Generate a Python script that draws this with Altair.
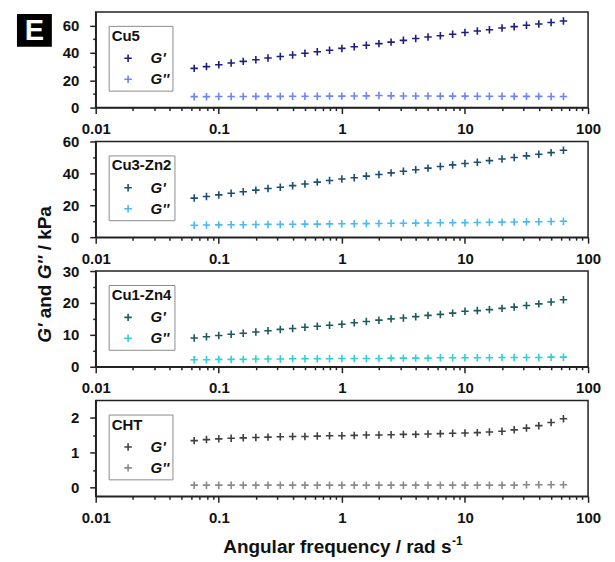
import json
import altair as alt
import pandas as pd

FONT = "Liberation Sans, Arial, sans-serif"

FREQ = [0.0631, 0.0794, 0.1, 0.126, 0.158, 0.2, 0.251, 0.316, 0.398, 0.501,
        0.631, 0.794, 1, 1.26, 1.58, 2, 2.51, 3.16, 3.98, 5.01,
        6.31, 7.94, 10, 12.6, 15.8, 20, 25.1, 31.6, 39.8, 50.1, 63.1]

SERIES = ["G'", "G''"]

CU5_GP = [28.7, 30.0, 31.3, 32.6, 33.8, 35.0, 36.3, 37.4, 38.5, 39.7, 40.9, 42.0,
          43.3, 44.5, 45.6, 46.8, 47.9, 49.2, 50.5, 51.6, 52.6, 53.7, 54.9, 56.0,
          57.0, 58.2, 59.2, 60.2, 61.2, 62.3, 63.3]
CU5_GPP = [8.0, 8.0, 8.1, 8.1, 8.1, 8.2, 8.2, 8.2, 8.3, 8.3, 8.3, 8.4, 8.4, 8.5,
           8.6, 8.9, 8.6, 8.5, 8.5, 8.5, 8.4, 8.4, 8.4, 8.3, 8.3, 8.3, 8.2, 8.2,
           8.2, 8.1, 8.1]
CU3_GP = [24.5, 25.5, 26.5, 27.5, 28.5, 29.5, 30.5, 31.3, 32.3, 33.3, 34.5, 35.5,
          36.5, 37.3, 38.3, 39.3, 40.3, 41.3, 42.3, 43.3, 44.3, 45.3, 46.2, 47.0,
          48.0, 49.0, 50.0, 51.0, 52.0, 53.0, 54.5]
CU3_GPP = [7.5, 7.6, 7.7, 7.8, 7.8, 7.9, 8.0, 8.0, 8.1, 8.2, 8.2, 8.3, 8.4, 8.4,
           8.5, 8.6, 8.7, 8.7, 8.8, 8.9, 9.0, 9.0, 9.1, 9.2, 9.3, 9.4, 9.5, 9.6,
           9.7, 9.8, 10.0]
CU1_GP = [9.0, 9.4, 9.8, 10.2, 10.5, 10.9, 11.3, 11.7, 12.0, 12.4, 12.7, 13.0,
          13.3, 13.8, 14.2, 14.6, 15.0, 15.3, 15.7, 16.1, 16.4, 16.8, 17.4, 17.6,
          17.9, 18.3, 18.7, 19.2, 19.7, 20.3, 21.0]
CU1_GPP = [2.2, 2.2, 2.3, 2.3, 2.3, 2.4, 2.4, 2.4, 2.5, 2.5, 2.5, 2.5, 2.6, 2.6,
           2.6, 2.6, 2.7, 2.7, 2.7, 2.7, 2.8, 2.8, 2.8, 2.8, 2.8, 2.9, 2.9, 2.9,
           2.9, 3.0, 3.0]
CHT_GP = [1.35, 1.38, 1.40, 1.42, 1.43, 1.44, 1.45, 1.46, 1.47, 1.47, 1.48, 1.49,
          1.49, 1.50, 1.51, 1.51, 1.52, 1.53, 1.53, 1.54, 1.55, 1.56, 1.57, 1.58,
          1.60, 1.62, 1.66, 1.71, 1.78, 1.87, 1.98]
CHT_GPP = [0.07, 0.07, 0.07, 0.07, 0.07, 0.07, 0.07, 0.07, 0.07, 0.07, 0.07, 0.07,
           0.07, 0.07, 0.07, 0.07, 0.07, 0.07, 0.07, 0.07, 0.07, 0.07, 0.07, 0.07,
           0.07, 0.07, 0.07, 0.08, 0.08, 0.08, 0.08]

NAMES = ["Cu5", "Cu3-Zn2", "Cu1-Zn4", "CHT"]
GP = [CU5_GP, CU3_GP, CU1_GP, CHT_GP]
GPP = [CU5_GPP, CU3_GPP, CU1_GPP, CHT_GPP]
COLORS = [["#1c1f80", "#6b83ff"], ["#1d4e72", "#48b9f2"],
          ["#1d5a5c", "#2fd0d3"], ["#404040", "#8a8a8a"]]
DOMAINS = [[0, 70], [0, 60], [0, 30], [-0.25, 2.5]]
MAJOR = [[0, 20, 40, 60], [0, 20, 40, 60], [0, 10, 20, 30], [0, 1, 2]]
MINOR = [[10, 30, 50], [10, 30, 50], [5, 15, 25], [0.5, 1.5]]

X_MAJOR = [0.01, 0.1, 1, 10, 100]
X_TICKS = [0.01, 0.02, 0.03, 0.04, 0.05, 0.06, 0.07, 0.08, 0.09,
           0.1, 0.2, 0.3, 0.4, 0.5, 0.6, 0.7, 0.8, 0.9,
           1, 2, 3, 4, 5, 6, 7, 8, 9,
           10, 20, 30, 40, 50, 60, 70, 80, 90, 100]

Y_TITLE = ["G'", "and", "G''", "/ kPa"]
Y_TITLE_ITALIC = [True, False, True, False]
X_TITLE = "Angular frequency / rad s"
X_TITLE_SUP = "-1"
PANEL_LABEL = "E"

PLUS = "M-1,0L1,0M0,-1L0,1"
W, H = 494, 96

# approximate advance widths (em) of Arial/Liberation Sans Bold
ADV = {"G": .778, "'": .238, "a": .556, "n": .611, "d": .611, "/": .278,
       " ": .278, "k": .556, "P": .667}


def text_width(s, size):
    return sum(ADV.get(c, .556) for c in s) * size


def one(v):
    return pd.DataFrame({"t": [v]})


x_test = "indexof(%s, datum.value) >= 0" % json.dumps(X_MAJOR)
x_axis = alt.Axis(values=X_TICKS, format="~g", title=None,
                  labelExpr=x_test + " ? datum.label : ''",
                  tickSize={"condition": {"test": x_test, "value": 6}, "value": 3},
                  labelFlush=False, labelOverlap=False, labelPadding=8)

charts = []
for i in range(4):
    df = pd.DataFrame({
        "freq": FREQ + FREQ,
        "G": GP[i] + GPP[i],
        "series": [SERIES[0]] * len(FREQ) + [SERIES[1]] * len(FREQ),
    })
    y_test = "indexof(%s, datum.value) >= 0" % json.dumps(MAJOR[i])
    y_axis = alt.Axis(values=sorted(MAJOR[i] + MINOR[i]), format="~r", title=None,
                      labelExpr=y_test + " ? datum.label : ''",
                      tickSize={"condition": {"test": y_test, "value": 6}, "value": 3},
                      labelOverlap=False, labelPadding=11)
    legend = alt.Legend(
        title=NAMES[i], orient="none", legendX=13, legendY=14,
        padding=3, strokeColor="#8c8c8c", fillColor="white",
        titleFont=FONT, titleFontSize=15, titleFontWeight="bold", titleColor="#111",
        titlePadding=7,
        labelFont=FONT, labelFontSize=15, labelFontWeight="bold",
        labelFontStyle="italic", labelColor="#111",
        symbolType=PLUS, symbolSize=56, symbolStrokeWidth=1.6,
        symbolOffset=9, labelOffset=15, rowPadding=5,
    )
    pts = alt.Chart(df).mark_point(shape=PLUS, filled=False, size=56,
                                   strokeWidth=1.6, opacity=1).encode(
        x=alt.X("freq:Q", scale=alt.Scale(type="log", domain=[0.01, 100], nice=False),
                axis=x_axis),
        y=alt.Y("G:Q", scale=alt.Scale(domain=DOMAINS[i], nice=False, zero=False),
                axis=y_axis),
        color=alt.Color("series:N", scale=alt.Scale(domain=SERIES, range=COLORS[i]),
                        legend=legend),
    )
    layers = [pts]
    if i == 0:
        layers.append(alt.Chart(one(PANEL_LABEL)).mark_rect(color="black").encode(
            x=alt.value(-79), x2=alt.value(-44), y=alt.value(2), y2=alt.value(35)))
        layers.append(alt.Chart(one(PANEL_LABEL)).mark_text(
            font=FONT, fontSize=29, fontWeight="bold", color="white",
            align="center", baseline="middle").encode(
            text="t:N", x=alt.value(-61.5), y=alt.value(19.5)))
    if i == 2:
        ypos = 72.0
        fs = 19
        for piece, ital in zip(Y_TITLE, Y_TITLE_ITALIC):
            layers.append(alt.Chart(one(piece)).mark_text(
                font=FONT, fontSize=fs, fontWeight="bold",
                fontStyle="italic" if ital else "normal", color="#111",
                angle=270, align="left", baseline="alphabetic").encode(
                text="t:N", x=alt.value(-45), y=alt.value(ypos)))
            ypos -= text_width(piece, fs) + text_width(" ", fs)
    if i == 3:
        layers.append(alt.Chart(one(X_TITLE)).mark_text(
            font=FONT, fontSize=19, fontWeight="bold", color="#111",
            align="left", baseline="alphabetic").encode(
            text="t:N", x=alt.value(128), y=alt.value(153)))
        layers.append(alt.Chart(one(X_TITLE_SUP)).mark_text(
            font=FONT, fontSize=12, fontWeight="bold", color="#111",
            align="left", baseline="alphabetic").encode(
            text="t:N", x=alt.value(128 + 229.5), y=alt.value(145)))
    charts.append(alt.layer(*layers).properties(width=W, height=H))

chart = alt.vconcat(*charts, spacing=34, bounds="flush").resolve_scale(
    color="independent"
).configure_view(
    stroke="#222", strokeWidth=1.5
).configure_axis(
    grid=False, domainColor="#222", domainWidth=1.5, tickColor="#222", tickWidth=1.5,
    labelFont=FONT, labelFontSize=15, labelFontWeight="bold", labelColor="#111",
).properties(
    padding={"left": 8, "top": 2, "right": 5, "bottom": 2}
)

chart.save("out.html", embed_options={"renderer": "svg", "actions": False})
